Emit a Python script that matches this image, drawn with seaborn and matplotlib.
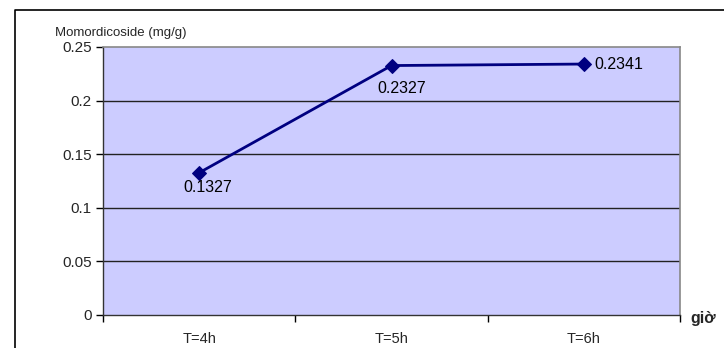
import matplotlib
matplotlib.use("Agg")
import matplotlib.pyplot as plt
import seaborn as sns
import pandas as pd
from matplotlib.lines import Line2D

# Data
categories = ["T=4h", "T=5h", "T=6h"]
values = [0.1327, 0.2327, 0.2341]
y_ticks = [0, 0.05, 0.1, 0.15, 0.2, 0.25]
y_tick_labels = ["0", "0.05", "0.1", "0.15", "0.2", "0.25"]

sns.set_theme(style="white")
plt.rcParams["font.family"] = ["Liberation Sans", "DejaVu Sans"]

W, H = 724, 348
fig = plt.figure(figsize=(W / 100, H / 100), dpi=100)
fig.patch.set_facecolor("white")

# Outer chart frame (left and top edges)
fig.add_artist(Line2D([15 / W, 15 / W, 1.0], [0.0, 1 - 10 / H, 1 - 10 / H],
                      transform=fig.transFigure, color="black", lw=1.2))

left, right, top, bottom = 103, 680, 47, 315
ax = fig.add_axes([left / W, 1 - bottom / H, (right - left) / W, (bottom - top) / H])
ax.set_facecolor("#CCCCFF")

df = pd.DataFrame({"x": range(len(categories)), "y": values})
sns.lineplot(data=df, x="x", y="y", ax=ax, color="#000080", lw=2,
             marker="D", markersize=7, markeredgecolor="#000080")

ax.set_xlim(-0.5, len(categories) - 0.5)
ax.set_ylim(0, 0.25)
ax.set_yticks(y_ticks)
ax.set_yticklabels(y_tick_labels, fontsize=11)
for yv in y_ticks[1:-1]:
    ax.axhline(yv, color="#222222", lw=1, zorder=0.5)

# Category labels centred in their slots, tick marks on slot boundaries
ax.set_xticks([i - 0.5 for i in range(len(categories) + 1)])
ax.set_xticklabels([])
ax.set_xticks(range(len(categories)), minor=True)
ax.set_xticklabels(categories, minor=True, fontsize=10.5)
ax.tick_params(axis="x", which="minor", length=0, pad=12)
ax.tick_params(axis="x", which="major", length=5, width=1, color="black", direction="out")
ax.tick_params(axis="y", length=5, width=1, color="black", direction="out", pad=3)
ax.tick_params(axis="both", bottom=True, left=True)

for s in ["top", "right"]:
    ax.spines[s].set_color("#888888")
    ax.spines[s].set_linewidth(1.2)
for s in ["left", "bottom"]:
    ax.spines[s].set_color("#333333")
    ax.spines[s].set_linewidth(1)

ax.set_xlabel("")
ax.set_ylabel("")

# Value labels
offsets = [(9, -15, "center"), (10, -23, "center"), (11, 0, "left")]
for i, (v, (dx, dy, ha)) in enumerate(zip(values, offsets)):
    ax.annotate(f"{v:.4f}", (i, v), xytext=(dx, dy), textcoords="offset pixels",
                ha=ha, va="center", fontsize=11.5, color="black")

fig.text(55 / W, 1 - 33 / H, "Momordicoside (mg/g)", fontsize=9.5, ha="left", va="center")
fig.text(690 / W, 1 - 319 / H, "giờ", fontsize=11.5, fontweight="bold", ha="left", va="center")

fig.savefig("out.png", dpi=100)
